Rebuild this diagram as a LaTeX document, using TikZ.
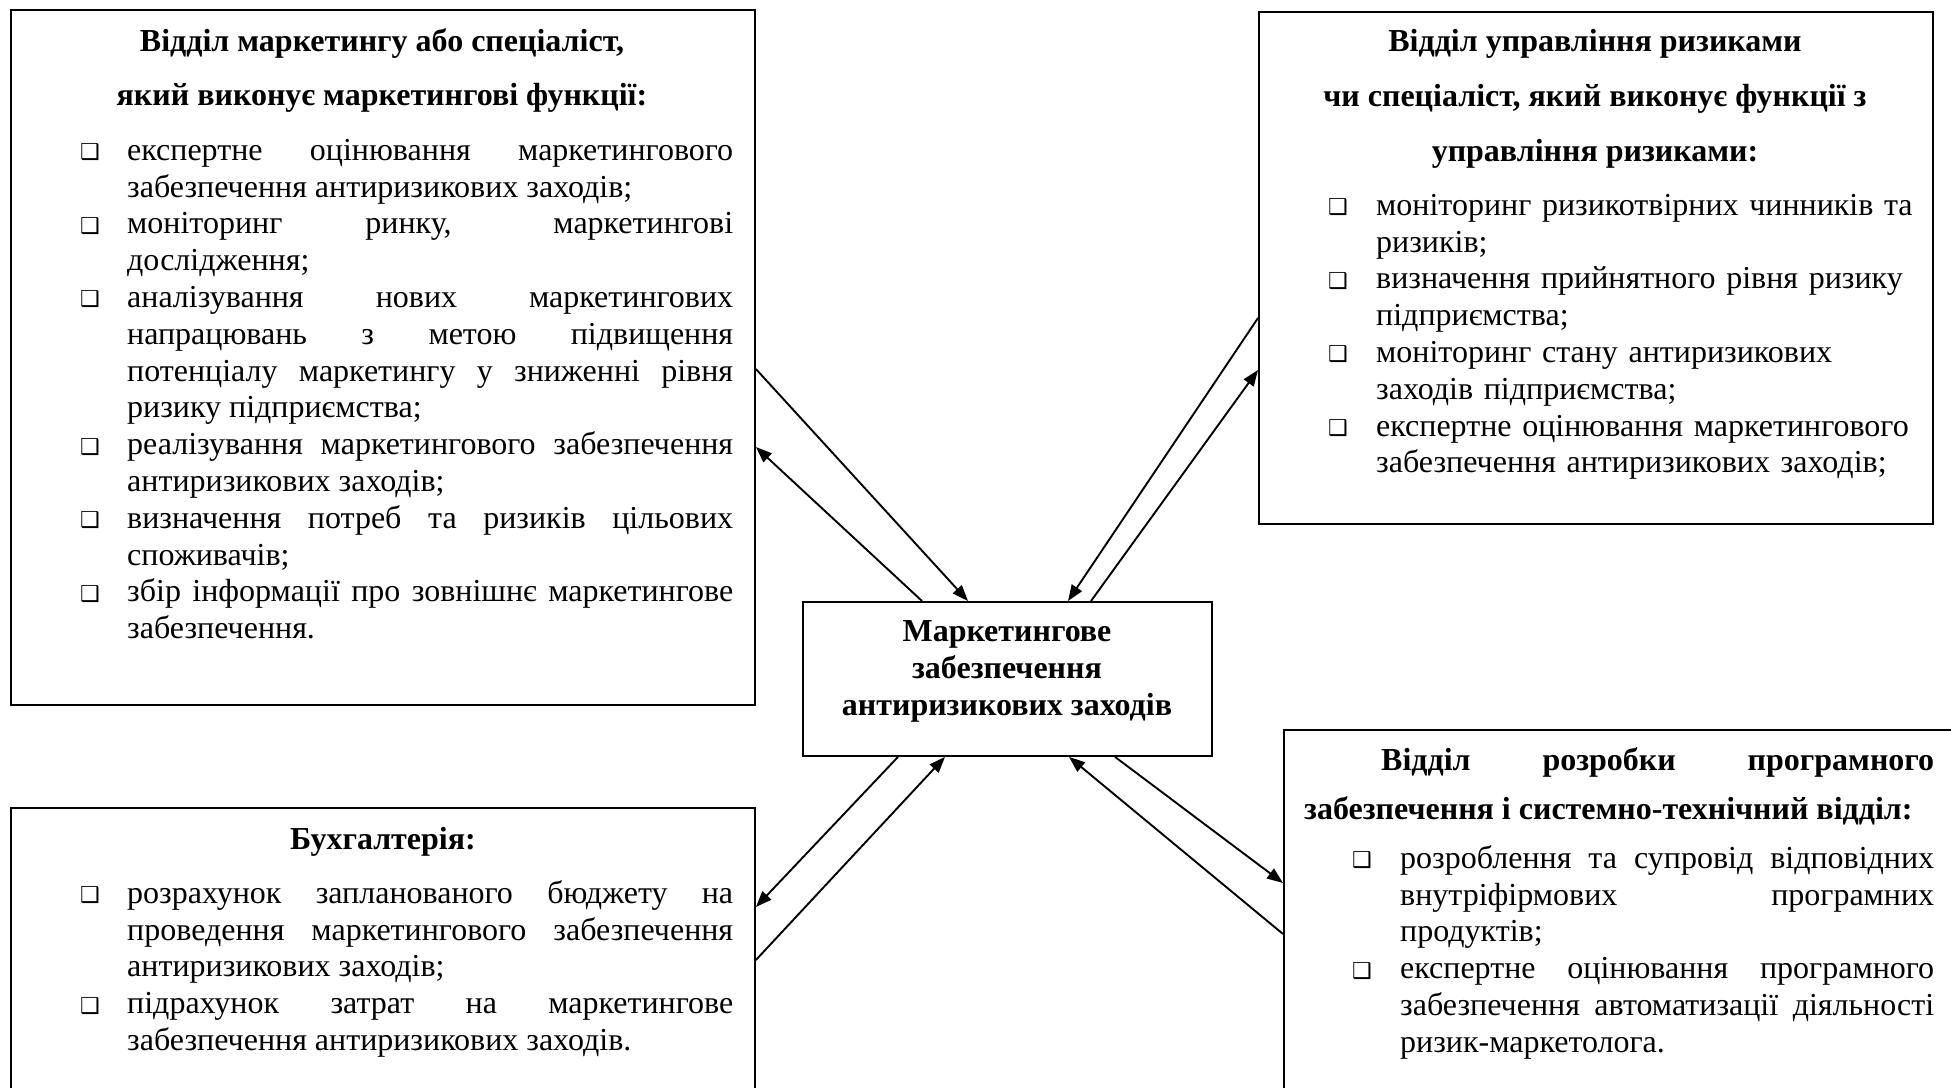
\documentclass[tikz,border=0pt]{standalone}
\usepackage{fontspec}
\setmainfont{Liberation Serif}
\newfontfamily\dejavu{DejaVu Sans}
\usetikzlibrary{arrows.meta}

\newcommand\bsym{\strut\rlap{\raisebox{0.5pt}{\fontsize{22}{22}\selectfont\dejavu ❑}}}
\newcommand\nohyph{\hyphenpenalty=10000\exhyphenpenalty=10000\tolerance=10000\relax}
\newenvironment{blist}[1]{%
 \begin{list}{\bsym}{%
 \setlength{\leftmargin}{#1}%
 \setlength{\labelwidth}{13pt}%
 \setlength{\labelsep}{\dimexpr#1-13pt\relax}%
 \setlength{\itemsep}{0pt}\setlength{\parsep}{0pt}%
 \setlength{\topsep}{0pt}\setlength{\partopsep}{0pt}%
 \setlength{\itemindent}{0pt}\setlength{\listparindent}{0pt}%
 \setlength{\rightmargin}{0pt}%
 \renewcommand{\makelabel}[1]{\makebox[13pt][l]{##1}}}}%
 {\end{list}}

\begin{document}
\begin{tikzpicture}[x=1pt,y=-1pt,
  frame/.style={draw, line width=1.9pt, inner sep=0pt, anchor=north west},
  body/.style={inner sep=0pt, anchor=north west, align=justify, font=\fontsize{32}{36.8}\selectfont},
  ragged/.style={inner sep=0pt, anchor=north west, align=left, font=\fontsize{32}{36.8}\selectfont},
  ttl/.style={inner sep=0pt, anchor=base, font=\fontsize{32}{36.8}\selectfont\bfseries},
  arr/.style={line width=1.9pt, -{Triangle[length=16pt,width=12pt]}}]
\useasboundingbox[fill=white] (0,0) rectangle (1951,1087);

% frames
\node[frame, minimum width=744pt, minimum height=695pt] (tl) at (10,9) {};
\node[frame, minimum width=674pt, minimum height=512pt] (tr) at (1258,11) {};
\node[frame, minimum width=409pt, minimum height=154pt] (c) at (802,601) {};
\node[frame, minimum width=744pt, minimum height=330pt] (bl) at (10,807) {};
\node[frame, minimum width=720pt, minimum height=400pt] (br) at (1283,729) {};

% top-left
\node[ttl] (tlt1) at (382,51) {Відділ маркетингу або спеціаліст,};
\node[ttl] (tlt2) at (382,105) {який виконує маркетингові функції:};
\node[body, text width=653pt] (tlb) at (80,123.2) {\nohyph
\begin{blist}{47pt}
\item експертне оцінювання маркетингового\linebreak забезпечення антиризикових заходів;
\item моніторинг ринку, маркетингові\linebreak дослідження;
\item аналізування нових маркетингових\linebreak напрацювань з метою підвищення\linebreak потенціалу маркетингу у зниженні рівня\linebreak ризику підприємства;
\item реалізування маркетингового забезпечення\linebreak антиризикових заходів;
\item визначення потреб та ризиків цільових\linebreak споживачів;
\item збір інформації про зовнішнє маркетингове\linebreak забезпечення.
\end{blist}};

% top-right
\node[ttl] (trt1) at (1595,51) {Відділ управління ризиками};
\node[ttl] (trt2) at (1595,106) {чи спеціаліст, який виконує функції з};
\node[ttl] (trt3) at (1595,161) {управління ризиками:};
\node[ragged, text width=592pt] (trb) at (1328,178.2) {\nohyph
\begin{blist}{48pt}
\item моніторинг ризикотвірних чинників та\newline ризиків;
\item визначення прийнятного рівня ризику\newline підприємства;
\item моніторинг стану антиризикових\newline заходів підприємства;
\item експертне оцінювання маркетингового\newline забезпечення антиризикових заходів;
\end{blist}};

% centre
\node[ttl] (ct1) at (1007,641) {Маркетингове};
\node[ttl] (ct2) at (1007,678) {забезпечення};
\node[ttl] (ct3) at (1007,715) {антиризикових заходів};

% bottom-left
\node[ttl] (blt) at (383,849) {Бухгалтерія:};
\node[body, text width=653pt] (blb) at (80,866.2) {\nohyph
\begin{blist}{47pt}
\item розрахунок запланованого бюджету на\linebreak проведення маркетингового забезпечення\linebreak антиризикових заходів;
\item підрахунок затрат на маркетингове\linebreak забезпечення антиризикових заходів.
\end{blist}};

% bottom-right
\node[body, text width=630pt, font=\fontsize{32}{49}\selectfont\bfseries] (brt) at (1304,747.7) {\nohyph
\hspace*{77pt}Відділ розробки програмного\linebreak забезпечення і системно-технічний відділ:};
\node[body, text width=582pt] (brb) at (1352,831.2) {\nohyph
\begin{blist}{48pt}
\item розроблення та супровід відповідних\linebreak внутріфірмових програмних\linebreak продуктів;
\item експертне оцінювання програмного\linebreak забезпечення автоматизації діяльності\linebreak ризик-маркетолога.
\end{blist}};

% connectors
\draw[arr] ([yshift=-360pt]tl.north east) -- ([xshift=166pt]c.north west);
\draw[arr] ([xshift=120pt]c.north west) -- ([yshift=-438pt]tl.north east);
\draw[arr] ([yshift=-307pt]tr.north west) -- ([xshift=266pt]c.north west);
\draw[arr] ([xshift=289pt]c.north west) -- ([yshift=-359pt]tr.north west);
\draw[arr] ([xshift=96pt]c.south west) -- ([yshift=-100pt]bl.north east);
\draw[arr] ([yshift=-153pt]bl.north east) -- ([xshift=143pt]c.south west);
\draw[arr] ([yshift=-205pt]br.north west) -- ([xshift=267pt]c.south west);
\draw[arr] ([xshift=313pt]c.south west) -- ([yshift=-154pt]br.north west);
\end{tikzpicture}
\end{document}
